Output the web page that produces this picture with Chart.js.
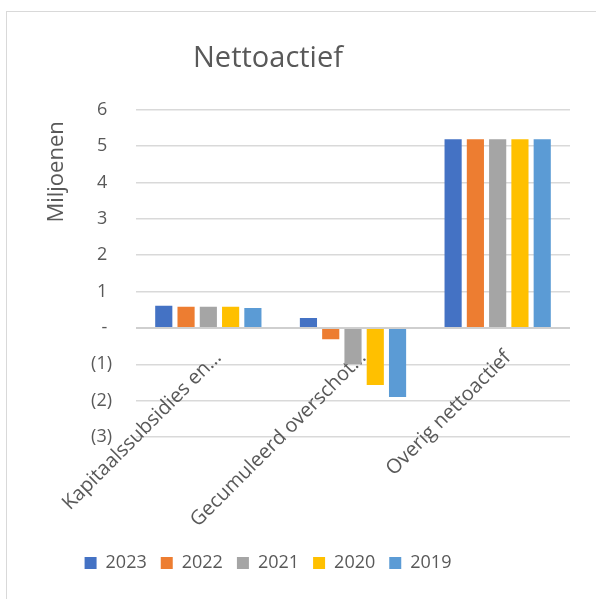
<!DOCTYPE html>
<html lang="nl">
<head>
  <meta charset="UTF-8">
  <title>Nettoactief</title>
  <script src="https://cdn.jsdelivr.net/npm/chart.js"></script>
  <style>
    html, body { margin: 0; padding: 0; background: #fff; overflow: hidden; }
    #frame { position: absolute; left: 6px; top: 11px; width: 640px; height: 640px; border: 1px solid #d9d9d9; }
    #wrap { position: absolute; left: -34px; top: 12px; width: 604px; height: 587px; }
  </style>
</head>
<body>
  <div id="frame"></div>
  <div id="wrap"><canvas id="nettoChart"></canvas></div>

  <script>
    const categories = ['Kapitaalssubsidies en…', 'Gecumuleerd overschot…', 'Overig nettoactief'];
    const years = ['2023', '2022', '2021', '2020', '2019'];
    const colors = ['#4472C4', '#ED7D31', '#A5A5A5', '#FFC000', '#5B9BD5'];
    // values in millions, per year, in category order
    const values2023 = [0.61, 0.27, 5.19];
    const values2022 = [0.58, -0.31, 5.19];
    const values2021 = [0.58, -1.0, 5.19];
    const values2020 = [0.58, -1.57, 5.19];
    const values2019 = [0.55, -1.9, 5.19];
    const yTicks = [-3, -2, -1, 0, 1, 2, 3, 4, 5, 6];

    const series = [values2023, values2022, values2021, values2020, values2019];
    const textColor = '#595959';

    Chart.defaults.font.family = "'Open Sans', sans-serif";
    Chart.defaults.color = textColor;

    const ctx = document.getElementById('nettoChart').getContext('2d');
    new Chart(ctx, {
      type: 'bar',
      data: {
        labels: categories,
        datasets: series.map((vals, i) => ({
          label: years[i],
          data: vals,
          backgroundColor: colors[i],
          categoryPercentage: 0.77,
          barPercentage: 0.77
        }))
      },
      options: {
        responsive: true,
        maintainAspectRatio: false,
        animation: false,
        layout: { padding: { left: 0, right: 0, top: 0, bottom: 17 } },
        plugins: {
          title: {
            display: true,
            text: 'Nettoactief',
            color: textColor,
            font: { size: 29, weight: 'normal' },
            padding: { top: 29, bottom: 34 }
          },
          legend: {
            position: 'bottom',
            // empty legend title only keeps room for the category labels
            title: { display: true, text: '', font: { size: 10, lineHeight: 1 }, padding: { top: 93, bottom: 0 } },
            labels: {
              boxWidth: 12,
              boxHeight: 12,
              padding: 14,
              color: textColor,
              font: { size: 18 }
            }
          },
          tooltip: { enabled: false }
        },
        scales: {
          x: {
            position: { y: 0 },
            z: 1,
            grid: { display: false },
            border: { display: false },
            ticks: {
              minRotation: 45,
              maxRotation: 45,
              padding: 10,
              labelOffset: 10,
              color: textColor,
              font: { size: 20 }
            }
          },
          y: {
            min: yTicks[0],
            max: yTicks[yTicks.length - 1],
            afterBuildTicks: (scale) => { scale.ticks = yTicks.map(v => ({ value: v })); },
            grid: {
              color: (c) => c.tick && c.tick.value === 0 ? '#cfcfcf' : '#d9d9d9',
              lineWidth: (c) => c.tick && c.tick.value === 0 ? 2 : 1.5,
              drawTicks: false
            },
            border: { display: false },
            ticks: {
              padding: 24,
              color: textColor,
              font: { size: 18 },
              callback: (v) => v === 0 ? '- ' : (v < 0 ? '(' + (-v) + ')' : v + ' ')
            },
            title: {
              display: true,
              text: 'Miljoenen  ',
              align: 'end',
              color: textColor,
              font: { size: 22 },
              padding: { top: 78, bottom: 4 }
            },
            afterFit: (scale) => { scale.width = 170; }
          }
        }
      }
    });
  </script>
</body>
</html>
